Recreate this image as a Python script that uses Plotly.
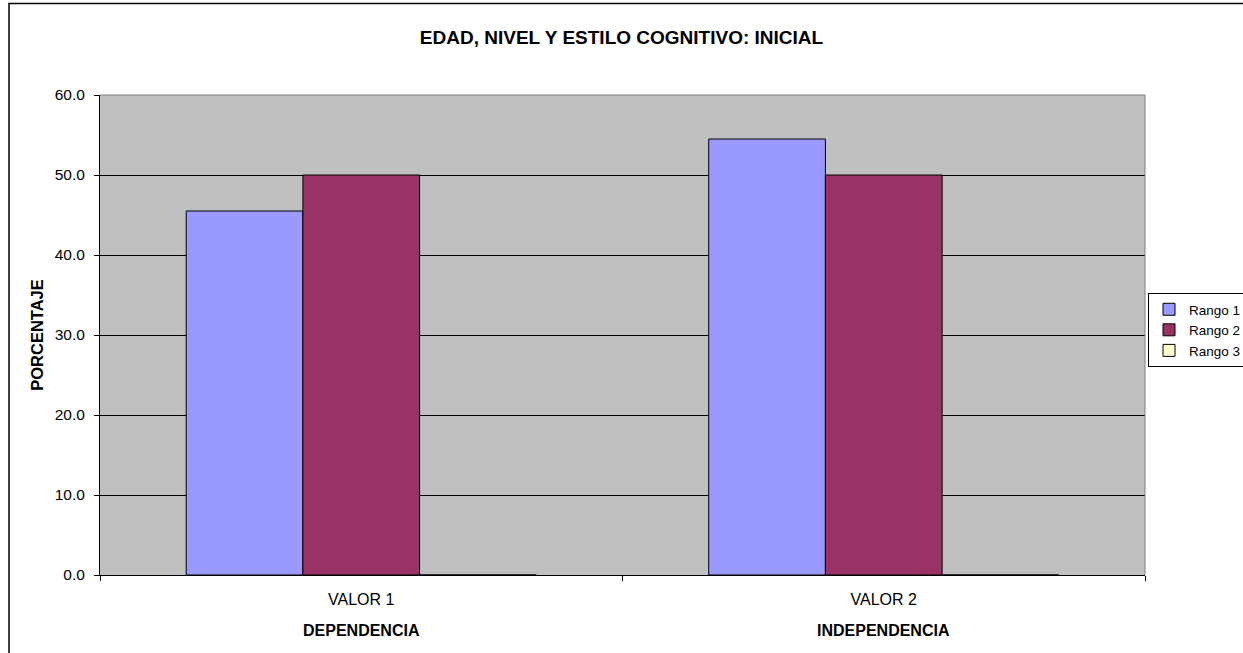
import plotly.graph_objects as go

categories = ["VALOR 1", "VALOR 2"]
group_labels = ["DEPENDENCIA", "INDEPENDENCIA"]
series_names = ["Rango 1", "Rango 2", "Rango 3"]
rango1 = [45.5, 54.5]
rango2 = [50.0, 50.0]
rango3 = [0.0, 0.0]
colors = ["#9999FF", "#993366", "#FFFFCC"]

FONT = "Liberation Sans, Arial, sans-serif"

fig = go.Figure()
for name, vals, col in zip(series_names, [rango1, rango2, rango3], colors):
    fig.add_trace(go.Bar(
        x=categories, y=vals, name=name,
        marker=dict(color=col, line=dict(color="#000000", width=1)),
    ))

W, H = 1243, 653
L, R, T, B = 100, 1145, 95, 575

fig.update_layout(
    width=W, height=H,
    margin=dict(l=L, r=W - R, t=T, b=H - B, pad=0, autoexpand=False),
    paper_bgcolor="white",
    plot_bgcolor="#C0C0C0",
    barmode="group",
    bargap=0.33,
    bargroupgap=0,
    font=dict(family=FONT, size=15, color="#000000"),
    title=dict(text="<b>EDAD, NIVEL Y ESTILO COGNITIVO: INICIAL</b>",
               x=0.5, xanchor="center", y=1 - 37 / H, yanchor="middle",
               font=dict(family=FONT, size=19, color="#000000")),
    showlegend=True,
    legend=dict(x=(1148 - L) / (R - L), xanchor="left",
                y=(B - 293) / (B - T), yanchor="top",
                bgcolor="white", bordercolor="#000000", borderwidth=1,
                font=dict(family=FONT, size=13.5, color="#000000"),
                tracegroupgap=0, itemwidth=30),
)

fig.update_xaxes(
    type="category", tickson="boundaries", ticks="outside", ticklen=5,
    tickcolor="#000000", showline=True, linecolor="#000000", linewidth=1,
    showgrid=False, tickfont=dict(family=FONT, size=16, color="#000000"),
    ticklabelstandoff=10,
)
fig.update_yaxes(
    range=[0, 60], dtick=10, tickformat=".1f", ticks="outside", ticklen=5,
    tickcolor="#000000", showline=True, linecolor="#000000", linewidth=1,
    showgrid=True, gridcolor="#000000", gridwidth=1, zeroline=False,
    tickfont=dict(family=FONT, size=15.5, color="#000000"),
    ticklabelstandoff=6,
    title=dict(text="<b>PORCENTAJE</b>", standoff=6,
               font=dict(family=FONT, size=16.5, color="#000000")),
)

# plot-area border (gray) on top & right
fig.add_shape(type="line", xref="paper", yref="paper", x0=1, x1=1, y0=0, y1=1,
              line=dict(color="#808080", width=1))
fig.add_shape(type="line", xref="paper", yref="paper", x0=0, x1=1, y0=1, y1=1,
              line=dict(color="#808080", width=1))

# outer chart border
fig.add_shape(type="rect", xref="paper", yref="paper",
              x0=(9 - L) / (R - L), x1=(1260 - L) / (R - L),
              y0=(B - 670) / (B - T), y1=(B - 3.5) / (B - T),
              line=dict(color="#000000", width=1.5), layer="below")

for cat, lab in zip(categories, group_labels):
    fig.add_annotation(x=cat, xref="x", y=(B - 630) / (B - T), yref="paper",
                       text=f"<b>{lab}</b>", showarrow=False,
                       font=dict(family=FONT, size=16, color="#000000"),
                       xanchor="center", yanchor="middle")

fig.write_html("out.html", config={"displayModeBar": False},
               post_script="document.body.style.margin='0';document.body.style.overflow='hidden';")
